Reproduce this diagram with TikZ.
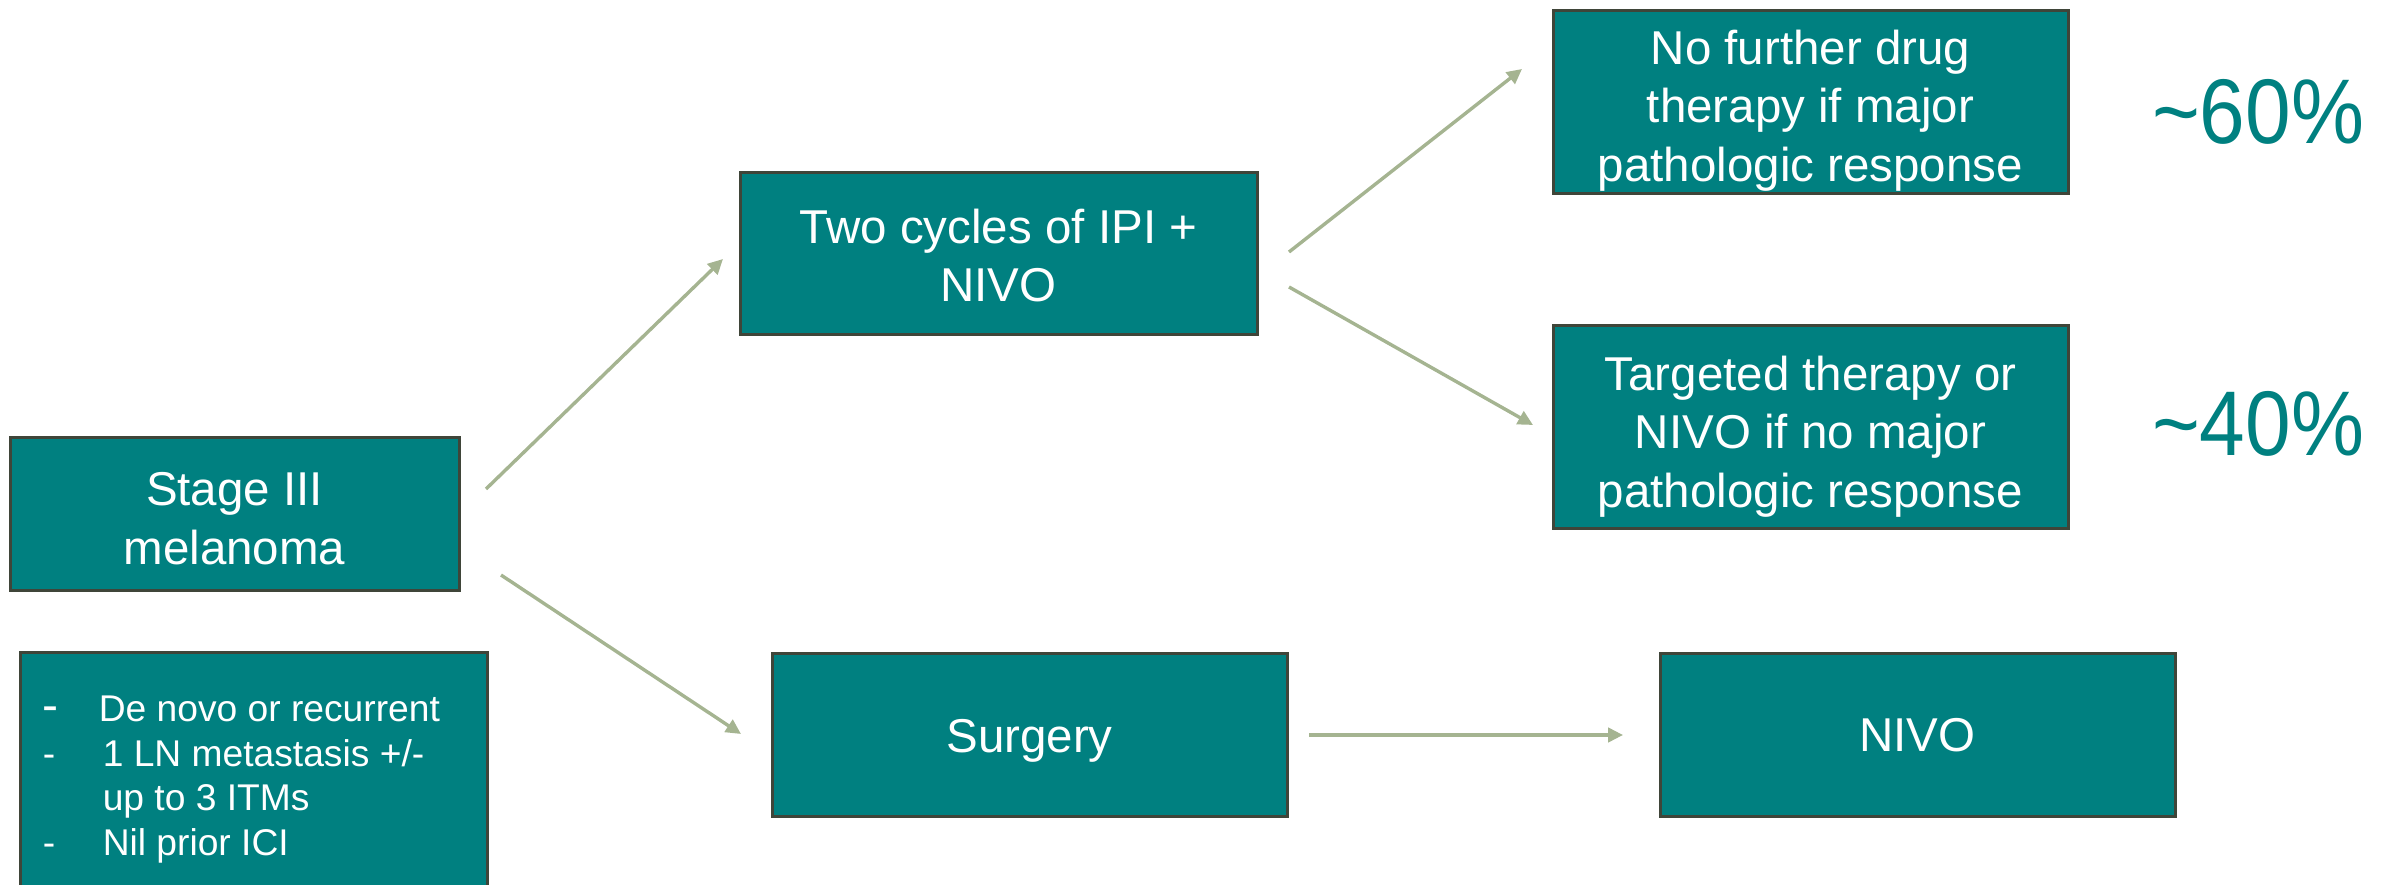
\documentclass[tikz,border=0pt]{standalone}
\usepackage{fontspec}
\usepackage{graphicx}
\setmainfont{Liberation Sans}
\usetikzlibrary{arrows.meta}
\definecolor{boxfill}{HTML}{008080}
\definecolor{boxline}{HTML}{3F4539}
\definecolor{arrowcol}{HTML}{A5B491}
\definecolor{pctcol}{HTML}{008080}
\begin{document}
\begin{tikzpicture}[x=0.25pt,y=-0.25pt,
  box/.style={draw=boxline, line width=0.75pt, fill=boxfill, inner sep=0pt},
  boxtext/.style={text=white, align=center, inner sep=0pt, font=\fontsize{11.875}{14.6}\selectfont},
  conn/.style={draw=arrowcol, line width=0.85pt, -{Triangle[length=3.75pt,width=3.6pt]}},
  pct/.style={text=pctcol, font=\fontsize{20.5}{24}\selectfont, inner sep=0pt},
  bullets/.style={text=white, align=left, inner sep=0pt, font=\fontsize{9.3}{11.2}\selectfont}]

\useasboundingbox (0,0) rectangle (2397,885);

% boxes
\node[box, minimum width=112.25pt, minimum height=38.25pt] (stage) at (234.5,514.5) {};
\node[boxtext] (stagetext) at ([yshift=-1pt]stage.center) {Stage III\\melanoma};

\node[box, minimum width=116.75pt, minimum height=59.25pt] (crit) at (253.5,771.5) {};
\node[bullets, anchor=north west] (crittext) at (42,695) {%
  \makebox[15pt][l]{\fontsize{12}{11.2}\selectfont -}\hspace{-1pt}De novo or recurrent\\
  \makebox[15pt][l]{-}1 LN metastasis +/-\\
  \hspace*{15pt}up to 3 ITMs\\
  \makebox[15pt][l]{-}Nil prior ICI};

\node[box, minimum width=129.25pt, minimum height=40.5pt] (two) at (998.5,254) {};
\node[boxtext] (twotext) at ([yshift=-0.4pt]two.center) {Two cycles of IPI +\\NIVO};

\node[box, minimum width=128.75pt, minimum height=45.75pt] (nofurther) at (1810.5,102.5) {};
\node[boxtext] (nofurthertext) at ([yshift=-2pt]nofurther.center) {No further drug\\therapy if major\\pathologic response};

\node[box, minimum width=128.75pt, minimum height=50.75pt] (targeted) at (1810.5,427.5) {};
\node[boxtext] (targetedtext) at ([yshift=-2.25pt]targeted.center) {Targeted therapy or\\NIVO if no major\\pathologic response};

\node[box, minimum width=128.75pt, minimum height=40.5pt] (surgery) at (1029.5,735) {};
\node[boxtext] (surgerytext) at ([yshift=-1.5pt]surgery.center) {Surgery};

\node[box, minimum width=128.75pt, minimum height=40.5pt] (nivo) at (1917.5,735) {};
\node[boxtext] (nivotext) at (nivo.center) {NIVO};

% percentages
\node[pct] (p60) at (2258,112) {\scalebox{1}[1.12]{\textasciitilde 60\%}};
\node[pct] (p40) at (2258,424) {\scalebox{1}[1.12]{\textasciitilde 40\%}};

% connector ends
\coordinate (s1) at (486,489);  \coordinate (e1) at (723,259);
\coordinate (s2) at (501,575);  \coordinate (e2) at (741,734);
\coordinate (s3) at (1289,252); \coordinate (e3) at (1522,69);
\coordinate (s4) at (1289,287); \coordinate (e4) at (1533,425);
\coordinate (s5) at (1309,735); \coordinate (e5) at (1623,735);

\draw[conn] (s1) -- (e1);
\draw[conn] (s2) -- (e2);
\draw[conn] (s3) -- (e3);
\draw[conn] (s4) -- (e4);
\draw[conn] (s5) -- (e5);
\end{tikzpicture}
\end{document}
